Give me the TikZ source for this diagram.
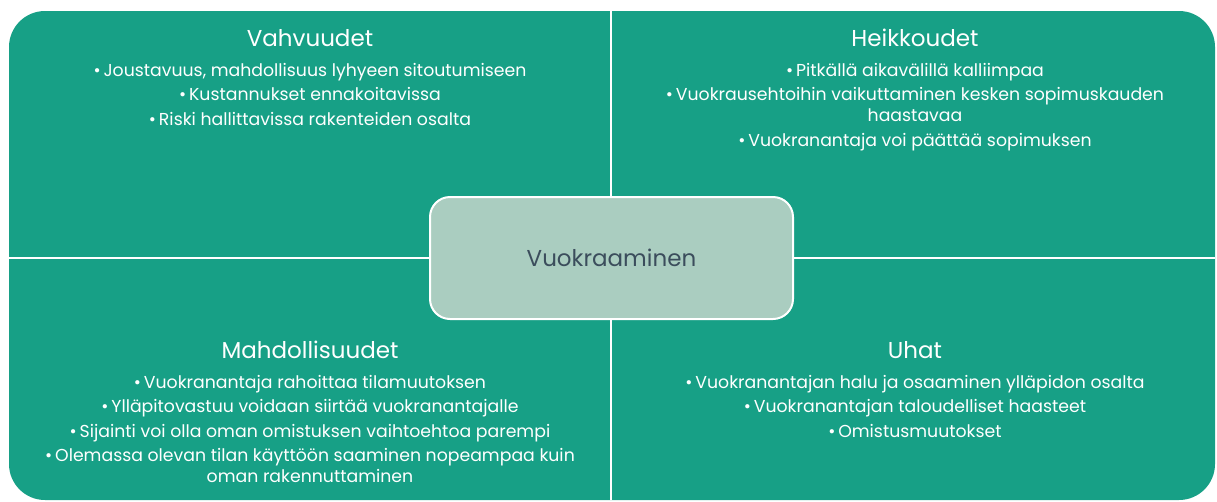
\documentclass[tikz,border=0pt]{standalone}
\usepackage{fontspec}
\setmainfont{Poppins}
\usetikzlibrary{positioning}

\definecolor{vihrea}{RGB}{23,160,134}
\definecolor{vaalea}{RGB}{170,205,192}
\definecolor{tumma}{RGB}{59,77,92}

\tikzset{
    otsikko/.style={text=white, inner sep=0pt, font=\fontsize{23}{27}\selectfont},
    lista/.style={text=white, inner sep=0pt, align=center, anchor=north,
        font=\fontsize{17.3}{21}\selectfont},
    keskusbox/.style={fill=vaalea, draw=white, line width=2pt, rounded corners=20pt,
        minimum width=363pt, minimum height=122pt, text=tumma,
        font=\fontsize{23}{27}\selectfont}
}

\begin{document}
\begin{tikzpicture}[x=1pt,y=-1pt]
        \useasboundingbox (0,0) rectangle (1217,501);

        % Taustat ja erottimet
        \fill[vihrea, rounded corners=36pt] (9,11) rectangle (1215,500);
        \draw[white, line width=2.5pt] (611,11) -- (611,500); % pysty
        \draw[white, line width=2.5pt] (9,258) -- (1215,258); % vaaka

        % Vahvuudet
        \node[otsikko] (vahv) at (310,38) {Vahvuudet};
        \node[lista] (vahvlista) at (310,63) {%
            •\,Joustavuus, mahdollisuus lyhyeen sitoutumiseen\\[3.5pt]
            •\,Kustannukset ennakoitavissa\\[3.5pt]
            •\,Riski hallittavissa rakenteiden osalta};

        % Heikkoudet
        \node[otsikko] (heik) at (915,38) {Heikkoudet};
        \node[lista] (heiklista) at (915,63) {%
            •\,Pitkällä aikavälillä kalliimpaa\\[3.5pt]
            •\,Vuokrausehtoihin vaikuttaminen kesken sopimuskauden\\
            haastavaa\\[3.5pt]
            •\,Vuokranantaja voi päättää sopimuksen};

        % Mahdollisuudet
        \node[otsikko] (mahd) at (310,350) {Mahdollisuudet};
        \node[lista] (mahdlista) at (310,375) {%
            •\,Vuokranantaja rahoittaa tilamuutoksen\\[3.5pt]
            •\,Ylläpitovastuu voidaan siirtää vuokranantajalle\\[3.5pt]
            •\,Sijainti voi olla oman omistuksen vaihtoehtoa parempi\\[3.5pt]
            •\,Olemassa olevan tilan käyttöön saaminen nopeampaa kuin\\
            oman rakennuttaminen};

        % Uhat
        \node[otsikko] (uhat) at (915,350) {Uhat};
        \node[lista] (uhatlista) at (915,375) {%
            •\,Vuokranantajan halu ja osaaminen ylläpidon osalta\\[3.5pt]
            •\,Vuokranantajan taloudelliset haasteet\\[3.5pt]
            •\,Omistusmuutokset};

        % Keskuslaatikko
        \node[keskusbox] (keskus) at (611.5,258) {Vuokraaminen};

\end{tikzpicture}
\end{document}
